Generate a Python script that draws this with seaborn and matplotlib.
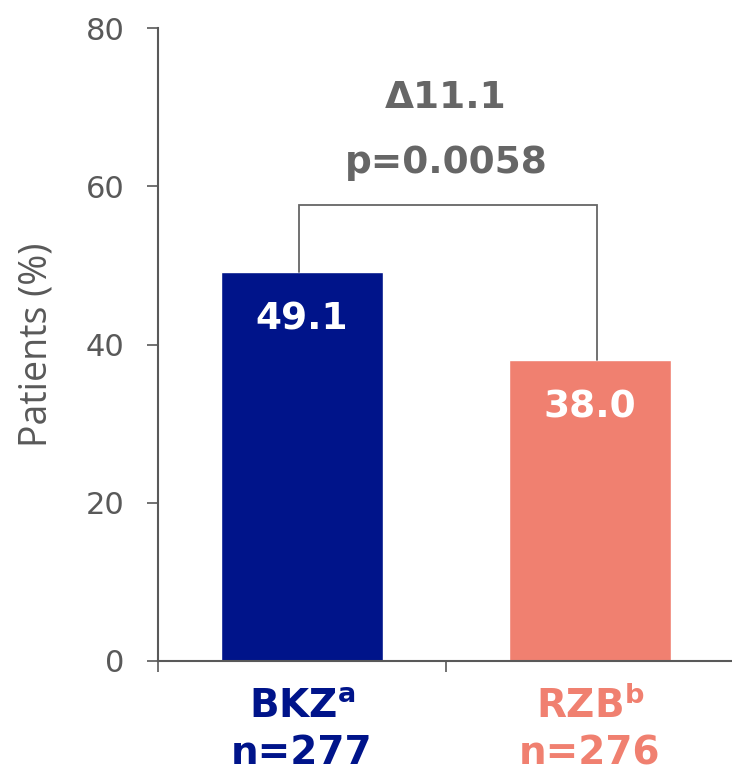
import matplotlib
matplotlib.use("Agg")
import matplotlib.pyplot as plt
import seaborn as sns
import pandas as pd

# Data
treatments = ["BKZ", "RZB"]
superscripts = ["a", "b"]
n_patients = [277, 276]
response_pct = [49.1, 38.0]
bar_colors = ["#00148A", "#F08070"]
delta_text = "\u039411.1"
p_text = "p=0.0058"
y_ticks = [0, 20, 40, 60, 80]

sns.set_theme(style="white")
plt.rcParams["font.family"] = ["DejaVu Sans"]
plt.rcParams["mathtext.fontset"] = "dejavusans"

grey = "#595959"
fig = plt.figure(figsize=(7.32, 7.71), dpi=100)
ax = fig.add_axes([158 / 732, 110 / 771, 576 / 732, 633 / 771])

df = pd.DataFrame({"treatment": treatments, "pct": response_pct})
sns.barplot(data=df, x="treatment", y="pct", hue="treatment",
            palette=bar_colors, width=0.56, legend=False, ax=ax,
            saturation=1)

ax.set_xlim(-0.5, 1.5)
ax.set_ylim(0, 80)
ax.set_yticks(y_ticks)
ax.set_yticklabels([str(t) for t in y_ticks], fontsize=22, color=grey)
ax.tick_params(axis="y", direction="out", length=8, width=1.2, color=grey,
               pad=16, left=True)
ax.set_xticks([-0.5, 0.5, 1.5])
ax.set_xticklabels(["", "", ""])
ax.tick_params(axis="x", direction="out", length=8, width=1.2, color=grey,
               bottom=True)
ax.set_xlabel("")
ax.set_ylabel("Patients (%)", family="Open Sans", fontsize=27, color=grey,
              labelpad=22)

for side in ["top", "right"]:
    ax.spines[side].set_visible(False)
for side in ["left", "bottom"]:
    ax.spines[side].set_color(grey)
    ax.spines[side].set_linewidth(1.5)

# Value labels inside bars
for i, v in enumerate(response_pct):
    ax.text(i, v - 6, f"{v:.1f}", ha="center", va="center", color="white",
            fontsize=27, fontweight="bold")

# Category labels below axis
xt = ax.get_xaxis_transform()
for i, (name, sup, n, c) in enumerate(zip(treatments, superscripts,
                                           n_patients, bar_colors)):
    ax.text(i, -0.090, rf"$\mathbf{{{name}}}^{{\mathbf{{{sup}}}}}$",
            transform=xt, ha="center", va="baseline", color=c, fontsize=28)
    ax.text(i, -0.163, f"n={n}", transform=xt, ha="center", va="baseline",
            color=c, fontsize=28, fontweight="bold")

# Significance bracket
bracket_y = 57.6
ax.plot([-0.01, -0.01, 1.025, 1.025],
        [response_pct[0], bracket_y, bracket_y, response_pct[1]],
        color="#666666", lw=1.3, solid_joinstyle="miter")
ax.text(0.5, 71.2, delta_text, ha="center", va="center", color="#666666",
        fontsize=27, fontweight="bold")
ax.text(0.5, 62.9, p_text, ha="center", va="center", color="#666666",
        fontsize=27, fontweight="bold")

fig.savefig("out.png", dpi=100)
